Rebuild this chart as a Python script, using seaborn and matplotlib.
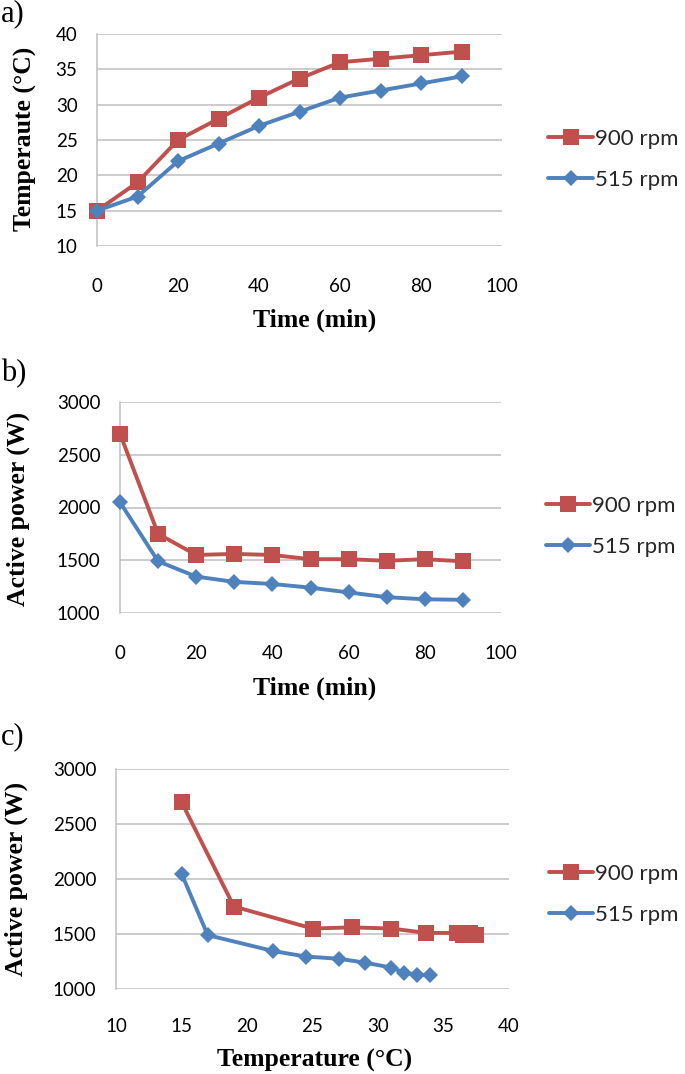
import matplotlib
matplotlib.use("Agg")
import matplotlib.pyplot as plt
import seaborn as sns
import numpy as np

time_min = [0, 10, 20, 30, 40, 50, 60, 70, 80, 90]
temp_900 = [15, 19, 25, 28, 31, 33.7, 36, 36.5, 37, 37.5]
temp_515 = [15, 17, 22, 24.5, 27, 29, 31, 32, 33, 34]
power_900 = [2700, 1750, 1550, 1560, 1550, 1510, 1510, 1495, 1510, 1490]
power_515 = [2050, 1490, 1345, 1295, 1275, 1240, 1195, 1150, 1130, 1125]
series_labels = ["900 rpm", "515 rpm"]

sns.set_theme(style="white")
plt.rcParams['font.family'] = ['Lato', 'DejaVu Sans']

RED = "#C0504D"
BLUE = "#4F81BD"
GRID = "#BFBFBF"
SERIF = ['Liberation Serif', 'DejaVu Serif']

W, H = 685, 1074
fig = plt.figure(figsize=(W / 100, H / 100), dpi=100)


def px_axes(left, right, top, bottom):
    return fig.add_axes([left / W, 1 - bottom / H, (right - left) / W, (bottom - top) / H])


def style(ax, xlim, xticks, ylim, yticks, xpad):
    ax.set_xlim(*xlim)
    ax.set_ylim(*ylim)
    ax.set_xticks(xticks)
    ax.set_yticks(yticks)
    ax.grid(axis='y', color=GRID, linewidth=1.1)
    ax.grid(axis='x', visible=False)
    for s in ['top', 'right', 'bottom']:
        ax.spines[s].set_visible(False)
    ax.spines['left'].set_color(GRID)
    ax.spines['left'].set_linewidth(1.1)
    ax.tick_params(axis='both', length=0, labelsize=13.5, colors='black')
    ax.tick_params(axis='y', pad=14)
    ax.tick_params(axis='x', pad=xpad)
    ax.set_xlabel("")
    ax.set_ylabel("")


def draw(ax, x9, y9, x5, y5, anchor):
    sns.lineplot(x=x9, y=y9, ax=ax, color=RED, linewidth=2.8, marker='s',
                 markersize=11, markeredgewidth=0, label=series_labels[0], sort=False,
                 clip_on=False, zorder=3)
    sns.lineplot(x=x5, y=y5, ax=ax, color=BLUE, linewidth=2.8, marker='D',
                 markersize=8.5, markeredgewidth=0, label=series_labels[1], sort=False,
                 clip_on=False, zorder=4)
    ax.legend(loc='center left', bbox_to_anchor=anchor, frameon=False,
              fontsize=16, handlelength=2.0, handletextpad=0.1, labelspacing=0.95)


# Panel a
ax1 = px_axes(97, 502, 34, 246)
draw(ax1, time_min, temp_900, time_min, temp_515, (1.065, 0.41))
style(ax1, (0, 100), range(0, 101, 20), (10, 40), range(10, 41, 5), 23)

# Panel b
ax2 = px_axes(120, 501, 402, 613)
draw(ax2, time_min, power_900, time_min, power_515, (1.065, 0.41))
style(ax2, (0, 100), range(0, 101, 20), (1000, 3000), range(1000, 3001, 500), 23)

# Panel c
ax3 = px_axes(116, 509, 769, 989)
draw(ax3, temp_900, power_900, temp_515, power_515, (1.05, 0.43))
style(ax3, (10, 40), range(10, 41, 5), (1000, 3000), range(1000, 3001, 500), 21)

# Axis labels and panel letters
lab = dict(family=SERIF, fontweight='bold', fontsize=18.5, color='black')
fig.text(25 / W, 1 - 139 / H, "Temperaute (°C)", rotation=90, ha='center', va='center', **lab)
fig.text(315 / W, 1 - 320 / H, "Time (min)", ha='center', va='center', **lab)
fig.text(18 / W, 1 - 509 / H, "Active power (W)", rotation=90, ha='center', va='center', **lab)
fig.text(315 / W, 1 - 688 / H, "Time (min)", ha='center', va='center', **lab)
fig.text(16 / W, 1 - 879 / H, "Active power (W)", rotation=90, ha='center', va='center', **lab)
fig.text(315 / W, 1 - 1060 / H, "Temperature (°C)", ha='center', va='center', **lab)

let = dict(family=SERIF, fontsize=22, color='black', ha='left', va='center')
fig.text(1 / W, 1 - 14 / H, "a)", **let)
fig.text(1 / W, 1 - 374 / H, "b)", **let)
fig.text(1 / W, 1 - 737 / H, "c)", **let)

fig.savefig("out.png", dpi=100, facecolor='white')
